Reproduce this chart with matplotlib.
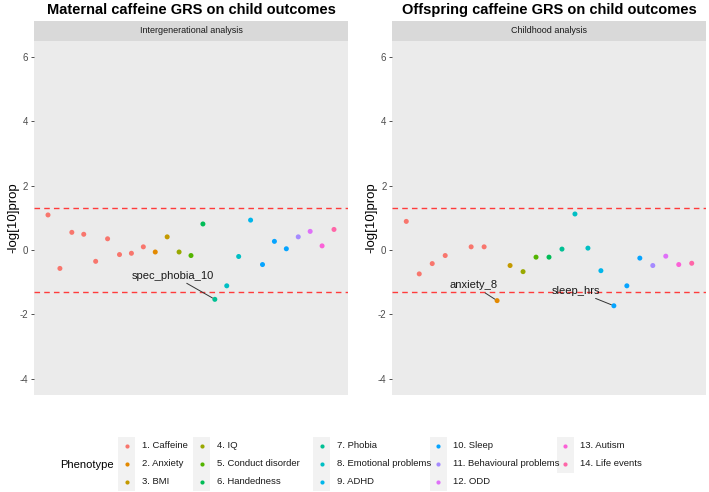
import matplotlib
matplotlib.use("Agg")
import matplotlib.pyplot as plt
from matplotlib.patches import Rectangle

plt.rcParams['font.family'] = ['Liberation Sans', 'DejaVu Sans']

phenotypes = ["1. Caffeine", "2. Anxiety", "3. BMI", "4. IQ", "5. Conduct disorder",
              "6. Handedness", "7. Phobia", "8. Emotional problems", "9. ADHD",
              "10. Sleep", "11. Behavioural problems", "12. ODD", "13. Autism",
              "14. Life events"]
colors = ["#F8766D", "#E38900", "#C49A00", "#99A800", "#53B400", "#00BC56", "#00C094",
          "#00BFC4", "#00B6EB", "#06A4FF", "#A58AFF", "#DF70F8", "#FB61D7", "#FF66A8"]

# Maternal (intergenerational)
left_x = list(range(1, 26))
left_y = [1.09, -0.57, 0.55, 0.49, -0.35, 0.35, -0.14, -0.10, 0.10, -0.06, 0.41, -0.06,
          -0.17, 0.81, -1.53, -1.11, -0.20, 0.93, -0.45, 0.27, 0.04, 0.41, 0.58, 0.13, 0.64]
left_pheno = [1] * 9 + [2, 3, 4, 5, 6, 7, 8, 8, 9, 10, 10, 10, 11, 12, 13, 14]
left_labels = {15: ("spec_phobia_10", -3.5, 0.74)}

# Offspring (childhood)
right_x = [1, 2, 3, 4] + list(range(6, 24))
right_y = [0.89, -0.74, -0.42, -0.17, 0.10, 0.10, -1.57, -0.48, -0.67, -0.22, -0.22,
           0.03, 1.12, 0.06, -0.64, -1.73, -1.11, -0.25, -0.48, -0.19, -0.45, -0.41]
right_pheno = [1] * 6 + [2, 3, 4, 5, 6, 7, 8, 8, 9, 10, 10, 10, 11, 12, 13, 14]
right_labels = {8: ("anxiety_8", -1.85, 0.48), 17: ("sleep_hrs", -2.9, 0.47)}

yticks = [-4, -2, 0, 2, 4, 6]
threshold = 1.30103

W, H = 709, 492
fig = plt.figure(figsize=(W / 100, H / 100), dpi=100)
fig.patch.set_facecolor("white")


def px(x0, y0, x1, y1):
    return [x0 / W, 1 - y1 / H, (x1 - x0) / W, (y1 - y0) / H]


def panel(x0, x1, xs, ys, ph, labels, title, strip, ylab_x):
    ax = fig.add_axes(px(x0, 40.7, x1, 395))
    ax.set_facecolor("#EBEBEB")
    for s in ax.spines.values():
        s.set_visible(False)
    n0, n1 = min(xs), max(xs)
    pad = (n1 - n0) * 0.05
    ax.set_xlim(n0 - pad, n1 + pad)
    ax.set_ylim(-4.5, 6.5)
    ax.set_xticks([])
    ax.set_yticks(yticks)
    ax.set_yticklabels([str(t) for t in yticks], fontsize=7, color="#4D4D4D")
    ax.tick_params(axis="y", length=2.5, width=0.6, color="#333333", pad=1.5)
    for t in (threshold, -threshold):
        ax.axhline(t, color="#FF3B3B", lw=1.0, ls=(0, (4, 3)), zorder=1)
    ax.scatter(xs, ys, c=[colors[p - 1] for p in ph], s=13, linewidths=0, zorder=3)
    for x, y in zip(xs, ys):
        if x in labels:
            txt, dx, dy = labels[x]
            ax.annotate(txt, xy=(x, y), xytext=(x + dx, y + dy), fontsize=8,
                        color="#1a1a1a", ha="center", va="center",
                        arrowprops=dict(arrowstyle="-", color="#333333", lw=0.7,
                                        shrinkA=0, shrinkB=2), zorder=4)
    fig.text(ylab_x / W, 1 - 218 / H, "-log[10]prop", rotation=90, ha="center",
             va="center", fontsize=9.5, color="black")
    # strip
    sax = fig.add_axes(px(x0, 21, x1, 40.7))
    sax.set_facecolor("#D9D9D9")
    sax.set_xticks([]); sax.set_yticks([])
    for s in sax.spines.values():
        s.set_visible(False)
    sax.text(0.5, 0.5, strip, ha="center", va="center", fontsize=6.5, color="#1A1A1A",
             transform=sax.transAxes)
    fig.text((x0 + x1) / 2 / W, 1 - 10 / H, title, ha="center", va="center",
             fontsize=10.5, fontweight="bold")
    return ax


panel(33.7, 348.3, left_x, left_y, left_pheno, left_labels,
      "Maternal caffeine GRS on child outcomes", "Intergenerational analysis", 13)
panel(392, 706, right_x, right_y, right_pheno, right_labels,
      "Offspring caffeine GRS on child outcomes", "Childhood analysis", 371)

# Legend
lax = fig.add_axes([0, 0, 1, 1], facecolor="none")
lax.set_xlim(0, W); lax.set_ylim(H, 0)
lax.axis("off")
fig.text(114 / W, 1 - 465 / H, "Phenotype", ha="right", va="center", fontsize=8)
col_x = [126.7, 201.7, 321.7, 438.3, 565]
row_y = [446, 464, 482]
for i, name in enumerate(phenotypes):
    c, r = divmod(i, 3)
    cx, cy = col_x[c], row_y[r]
    lax.add_patch(Rectangle((cx - 8.5, cy - 9), 17, 18, facecolor="#F2F2F2",
                            edgecolor="none"))
    lax.scatter([cx], [cy], s=9, c=colors[i], linewidths=0)
    lax.text(cx + 15, cy, name, ha="left", va="center", fontsize=6.8, color="#1A1A1A")

fig.savefig("out.png", dpi=100)
